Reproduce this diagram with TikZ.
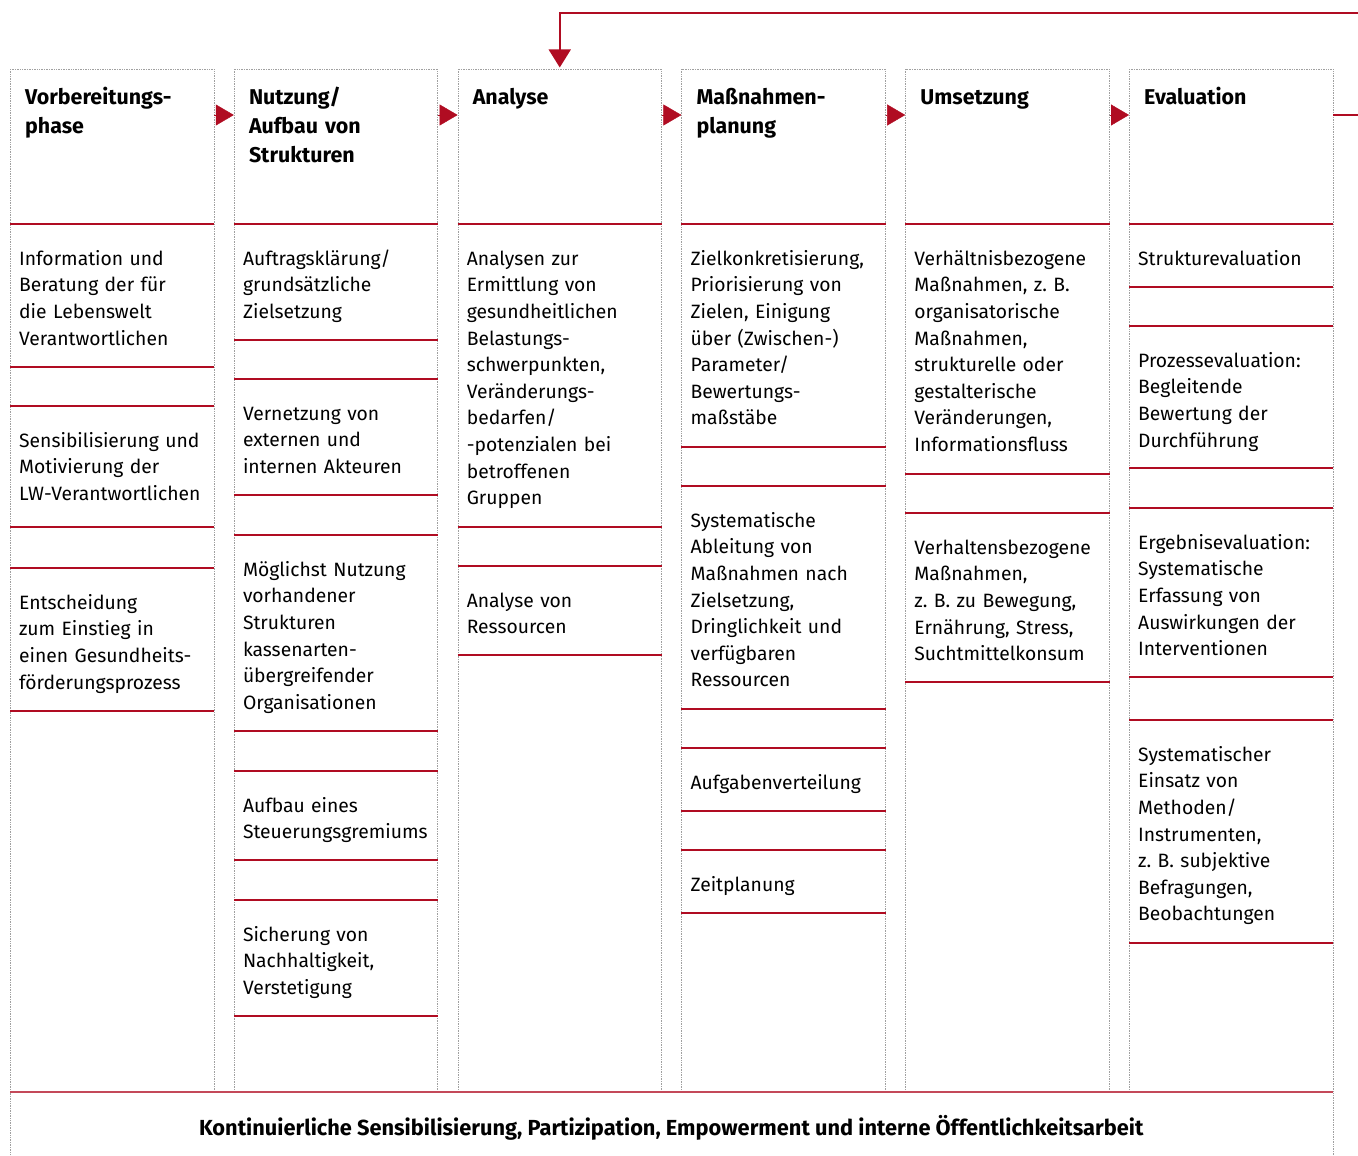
\documentclass[tikz,border=0pt]{standalone}
\usepackage{fontspec}
\setmainfont{Fira Sans}
\usetikzlibrary{positioning,calc,arrows.meta}
\definecolor{gfred}{RGB}{176,12,34}
\definecolor{gfgrey}{RGB}{160,160,160}
\tikzset{
  colbox/.style={draw=gfgrey, line width=.8pt, dash pattern=on .8pt off .9pt, inner sep=0pt},
  redline/.style={draw=gfred, line width=1.6pt},
  phase/.style={anchor=north west, inner sep=0pt, text width=195pt, align=left,
    font=\fontsize{21.4}{29}\selectfont\bfseries,
    execute at begin node=\strut, execute at end node=\strut},
  item/.style={anchor=north west, inner sep=0pt, text width=200pt, align=left,
    font=\fontsize{19.3}{26.6}\selectfont,
    execute at begin node=\strut, execute at end node=\strut},
  steparrow/.style={draw=gfred, fill=gfred, line width=.4pt, -{Triangle[length=18pt,width=21pt]}},
  feedback/.style={draw=gfred, line width=1.6pt, -{Triangle[length=18pt,width=22pt]}, shorten >=1.5pt},
  bandtext/.style={anchor=base, inner sep=0pt, font=\fontsize{21.8}{26}\selectfont\bfseries}
}
\begin{document}
\begin{tikzpicture}[x=1pt,y=-1pt]
  \useasboundingbox (0,0) rectangle (1358,1156);
  \clip (0,0) rectangle (1358,1156);
  \def\colw{203.5}  % Spaltenbreite
  \def\colsep{223.8} % Abstand der Spalten
  % Spalten
  \foreach \i in {1,...,6}
    \node[colbox, anchor=north west, minimum width=\colw pt, minimum height=1023pt]
      (col\i) at ({10+(\i-1)*\colsep},69) {};
  % Band unten
  \node[colbox, anchor=north west, minimum width=1322.5pt, minimum height=90pt]
    (band) at (10,1092) {};
  \draw[redline, draw=gfred!75, line width=2pt] (band.north west) -- (band.north east);
  \node[bandtext] (bandtxt) at (671.25,1135.3)
    {Kontinuierliche Sensibilisierung, Partizipation, Empowerment und interne Öffentlichkeitsarbeit};
  % Phasen
  \foreach \i/\txt in {1/{Vorbereitungs-\\phase}, 2/{Nutzung/\\Aufbau von\\Strukturen},
      3/{Analyse}, 4/{Maßnahmen-\\planung}, 5/{Umsetzung}, 6/{Evaluation}}
    \node[phase] (h\i) at ($(col\i.north west)+(15,14.7)$) {\txt};
  \foreach \i[count=\j from 2] in {1,...,5}
    \draw[steparrow] (col\i.east |- 0,115) -- (col\j.west |- 0,115);
  \draw[feedback] (col6.east |- 0,115) -- (1380,115) -- (1380,13) -| (col3.north);
  % Bausteine: Spalte/Nr/oben/unten/Text
  \foreach \c/\k/\top/\bot/\txt in {
      1/1/224/367/{Information und\\Beratung der für\\die Lebenswelt\\Verantwortlichen},
      1/2/406/527/{Sensibilisierung und\\Motivierung der\\LW-Verantwortlichen},
      1/3/568/711/{Entscheidung\\zum Einstieg in\\einen Gesundheits-\\förderungsprozess},
      2/1/224/340/{Auftragsklärung/\\grundsätzliche\\Zielsetzung},
      2/2/379/495/{Vernetzung von\\externen und\\internen Akteuren},
      2/3/535/731/{Möglichst Nutzung\\vorhandener\\Strukturen\\kassenarten-\\übergreifender\\Organisationen},
      2/4/771/860/{Aufbau eines\\Steuerungsgremiums},
      2/5/900/1016/{Sicherung von\\Nachhaltigkeit,\\Verstetigung},
      3/1/224/527/{Analysen zur\\Ermittlung von\\gesundheitlichen\\Belastungs-\\schwerpunkten,\\Veränderungs-\\bedarfen/\\-potenzialen bei\\betroffenen\\Gruppen},
      3/2/566/655/{Analyse von\\Ressourcen},
      4/1/224/447/{Zielkonkretisierung,\\Priorisierung von\\Zielen, Einigung\\über (Zwischen-)\\Parameter/\\Bewertungs-\\maßstäbe},
      4/2/486/709/{Systematische\\Ableitung von\\Maßnahmen nach\\Zielsetzung,\\Dringlichkeit und\\verfügbaren\\Ressourcen},
      4/3/748/811/{Aufgabenverteilung},
      4/4/850/913/{Zeitplanung},
      5/1/224/474/{Verhältnisbezogene\\Maßnahmen, z.~B.\\organisatorische\\Maßnahmen,\\strukturelle oder\\gestalterische\\Veränderungen,\\Informationsfluss},
      5/2/513/682/{Verhaltensbezogene\\Maßnahmen,\\z.~B. zu Bewegung,\\Ernährung, Stress,\\Suchtmittelkonsum},
      6/1/224/287/{Strukturevaluation},
      6/2/326/468/{Prozessevaluation:\\Begleitende\\Bewertung der\\Durchführung},
      6/3/508/677/{Ergebnisevaluation:\\Systematische\\Erfassung von\\Auswirkungen der\\Interventionen},
      6/4/720/943/{Systematischer\\Einsatz von\\Methoden/\\Instrumenten,\\z.~B. subjektive\\Befragungen,\\Beobachtungen}}
  {
    \draw[redline] (col\c.west |- 0,\top) -- (col\c.east |- 0,\top);
    \draw[redline] (col\c.west |- 0,\bot) -- (col\c.east |- 0,\bot);
    \node[item] (b\c-\k) at ($(col\c.west |- 0,\top)+(9,22.4)$) {\txt};
  }
\end{tikzpicture}
\end{document}
